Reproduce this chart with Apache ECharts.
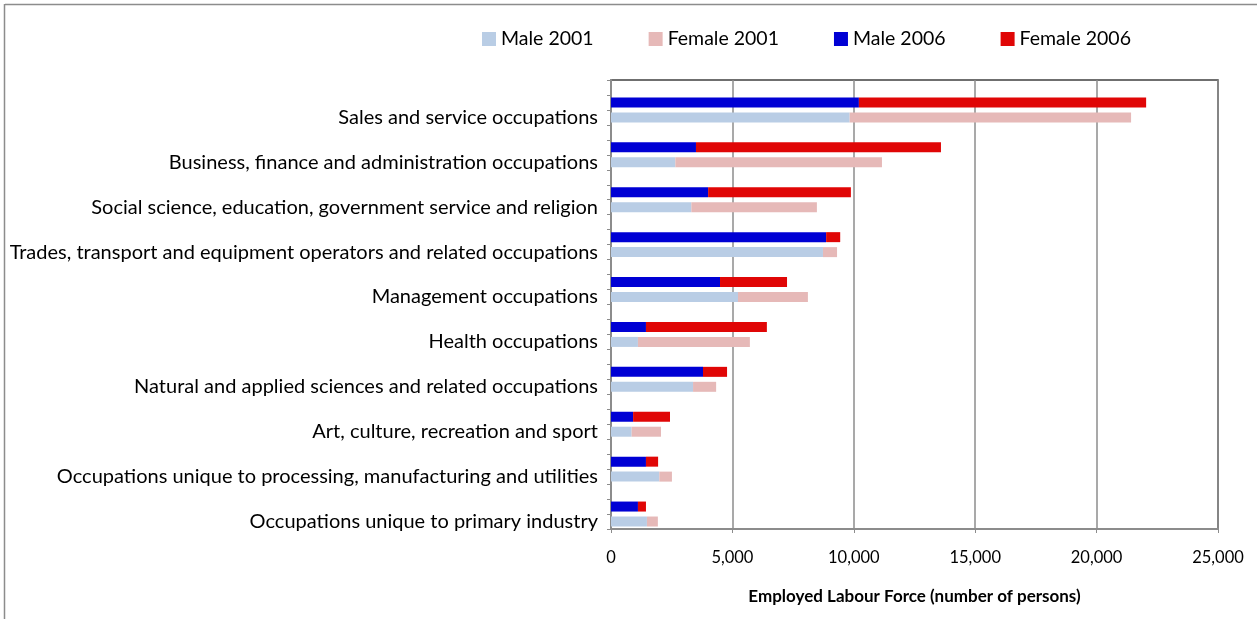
<!DOCTYPE html>
<html>
<head>
<meta charset="utf-8">
<script src="https://cdn.jsdelivr.net/npm/echarts@6/dist/echarts.min.js"></script>
<style>
  html, body { margin: 0; padding: 0; background: #fff; }
  #chart { width: 1257px; height: 619px; }
</style>
</head>
<body>
<div id="chart"></div>
<script>
// occupations, top to bottom
const categories = [
  "Sales and service occupations",
  "Business, finance and administration occupations",
  "Social science, education, government service and religion",
  "Trades, transport and equipment operators and related occupations",
  "Management occupations",
  "Health occupations",
  "Natural and applied sciences and related occupations",
  "Art, culture, recreation and sport",
  "Occupations unique to processing, manufacturing and utilities",
  "Occupations unique to primary industry"
];
const male2001 = [9830, 2650, 3310, 8730, 5230, 1110, 3380, 850, 1990, 1480];
const female2001 = [11590, 8510, 5170, 580, 2880, 4610, 950, 1210, 520, 450];
const male2006 = [10210, 3500, 4000, 8860, 4490, 1440, 3790, 910, 1440, 1110];
const female2006 = [11830, 10090, 5880, 580, 2760, 4980, 990, 1520, 500, 330];
const xTicks = [0, 5000, 10000, 15000, 20000, 25000];

// Excel style layout: each occupation gets three rows (gap, 2006, 2001)
const rowKeys = [];
const rowLabels = [];
const rows = { m01: [], f01: [], m06: [], f06: [] };
categories.forEach((name, i) => {
  rowKeys.push("g" + i, "a" + i, "b" + i);
  rowLabels.push("", "", name);
  rows.m06.push("-", male2006[i], "-");
  rows.f06.push("-", female2006[i], "-");
  rows.m01.push("-", "-", male2001[i]);
  rows.f01.push("-", "-", female2001[i]);
});

const font = "Lato, 'Liberation Sans', sans-serif";
const chart = echarts.init(document.getElementById("chart"));

const bar = (name, data, color) => ({
  name: name,
  type: "bar",
  stack: "total",
  barWidth: 10,
  data: data,
  itemStyle: { color: color },
  emphasis: { disabled: true }
});

chart.setOption({
  animation: false,
  textStyle: { fontFamily: font },
  legend: {
    top: 24,
    left: 477,
    itemGap: 55,
    itemWidth: 14,
    itemHeight: 14,
    icon: "rect",
    textStyle: { fontSize: 19.5, color: "#000", fontFamily: font },
    data: ["Male 2001", "Female 2001", "Male 2006", "Female 2006"]
  },
  grid: {
    left: 611,
    right: 39,
    top: 80,
    bottom: 90,
    show: true,
    borderColor: "#404040",
    borderWidth: 1.5
  },
  xAxis: {
    type: "value",
    min: xTicks[0],
    max: xTicks[xTicks.length - 1],
    interval: 5000,
    name: "Employed Labour Force (number of persons)",
    nameLocation: "middle",
    nameGap: 59,
    nameTextStyle: { fontSize: 17, fontWeight: "bold", color: "#000", fontFamily: font },
    axisLine: { show: true, lineStyle: { color: "#8c8c8c", width: 2 } },
    axisTick: { show: true, length: 4, lineStyle: { color: "#8c8c8c" } },
    axisLabel: {
      fontSize: 16.5,
      color: "#000",
      margin: 20,
      formatter: v => v.toLocaleString("en-US")
    },
    splitLine: { show: true, lineStyle: { color: "#8c8c8c", width: 1.5 } }
  },
  yAxis: {
    type: "category",
    inverse: true,
    data: rowKeys,
    axisLine: { show: true, lineStyle: { color: "#8c8c8c", width: 2 } },
    axisTick: { show: true, interval: 0, length: 4, lineStyle: { color: "#8c8c8c" } },
    axisLabel: {
      interval: 0,
      fontSize: 20,
      color: "#000",
      margin: 13,
      formatter: (v, idx) => rowLabels[idx]
    }
  },
  graphic: [
    { type: "line", shape: { x1: 5, y1: 4.5, x2: 1257, y2: 4.5 }, style: { stroke: "#8c8c8c", lineWidth: 1.5 } },
    { type: "line", shape: { x1: 4.5, y1: 4, x2: 4.5, y2: 619 }, style: { stroke: "#8c8c8c", lineWidth: 1.5 } }
  ],
  series: [
    bar("Male 2001", rows.m01, "#b9cde5"),
    bar("Female 2001", rows.f01, "#e6b9b8"),
    bar("Male 2006", rows.m06, "#0000d4"),
    bar("Female 2006", rows.f06, "#e00606")
  ]
});
</script>
</body>
</html>
